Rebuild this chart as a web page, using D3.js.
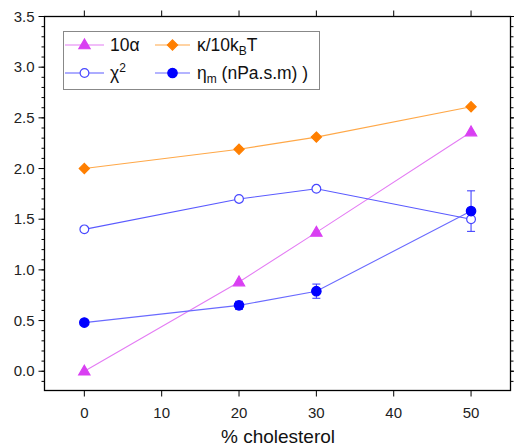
<!DOCTYPE html>
<html><head><meta charset="utf-8">
<script src="https://cdn.jsdelivr.net/npm/d3@7"></script>
<style>body{margin:0;background:#fff;} svg{display:block;} text{font-family:"Liberation Sans",Arial,sans-serif;}</style>
</head><body><svg id="c" width="514" height="447"></svg>
<script>
const xValues = [0, 20, 30, 50];
const alpha10 = [0.0, 0.88, 1.37, 2.36];
const kappa = [2.0, 2.19, 2.31, 2.61];
const chi2 = [1.40, 1.70, 1.80, 1.50];
const eta = [0.48, 0.65, 0.79, 1.58];
const etaErr = [0.01, 0.04, 0.07, 0.20];
const xTicks = [0, 10, 20, 30, 40, 50];
const yTicks = [0, 0.5, 1, 1.5, 2, 2.5, 3, 3.5];

const svg = d3.select("#c");
const L = 44.5, R = 510.5, T = 16.5, B = 390.5;
const x = d3.scaleLinear().domain([-5.15, 55.1]).range([L, R]);
const y = d3.scaleLinear().domain([-0.19, 3.5]).range([B, T]);

const diamondSym = {draw(ctx, size) { const r = Math.sqrt(size / 2); ctx.moveTo(0, -r); ctx.lineTo(r, 0); ctx.lineTo(0, r); ctx.lineTo(-r, 0); ctx.closePath(); }};

svg.append("rect").attr("x", L).attr("y", T).attr("width", R - L).attr("height", B - T)
  .attr("fill", "none").attr("stroke", "#000").attr("stroke-width", 1.3);

const minorY = d3.range(-0.1, 3.5001, 0.1).map(v => +v.toFixed(2));
const gl = svg.append("g").attr("transform", `translate(${L},0)`);
gl.selectAll("line.minor").data(minorY).join("line")
  .attr("x1", -3).attr("x2", 0).attr("y1", d => y(d)).attr("y2", d => y(d)).attr("stroke", "#000");
gl.selectAll("line.major").data(yTicks).join("line")
  .attr("x1", -6).attr("x2", 0).attr("y1", d => y(d)).attr("y2", d => y(d)).attr("stroke", "#000");
gl.selectAll("text").data(yTicks).join("text")
  .attr("x", -10).attr("y", d => y(d)).attr("dy", "0.35em").attr("text-anchor", "end")
  .attr("font-size", 15).attr("fill", "#222").text(d => d.toFixed(1));
const gr = svg.append("g").attr("transform", `translate(${R},0)`);
gr.selectAll("line.minor").data(minorY).join("line")
  .attr("x1", 0).attr("x2", 3).attr("y1", d => y(d)).attr("y2", d => y(d)).attr("stroke", "#000");
gr.selectAll("line.major").data(yTicks).join("line")
  .attr("x1", 0).attr("x2", 6).attr("y1", d => y(d)).attr("y2", d => y(d)).attr("stroke", "#000");
const gb = svg.append("g").attr("transform", `translate(0,${B})`);
gb.selectAll("line").data(xTicks).join("line")
  .attr("x1", d => x(d)).attr("x2", d => x(d)).attr("y1", 0).attr("y2", 6).attr("stroke", "#000");
gb.selectAll("text").data(xTicks).join("text")
  .attr("x", d => x(d)).attr("y", 22).attr("dy", "0.35em").attr("text-anchor", "middle")
  .attr("font-size", 15).attr("fill", "#222").text(d => d);
const gt = svg.append("g").attr("transform", `translate(0,${T})`);
gt.selectAll("line").data(xTicks).join("line")
  .attr("x1", d => x(d)).attr("x2", d => x(d)).attr("y1", 0).attr("y2", -6).attr("stroke", "#000");

svg.append("text").attr("x", 278).attr("y", 443).attr("text-anchor", "middle")
  .attr("font-size", 19).attr("fill", "#111").text("% cholesterol");

const line = d3.line().x(d => x(d[0])).y(d => y(d[1]));
const series = [
  {vals: alpha10, line: "#E47CF4", sym: d3.symbolTriangle, size: 55, dy: 0.5, fill: "#D93FF2", stroke: "#D93FF2"},
  {vals: kappa, line: "#FFA848", sym: diamondSym, size: 52, dy: 0, fill: "#FF7F00", stroke: "#FF7F00"},
  {vals: chi2, line: "#5A5AFF", sym: d3.symbolCircle, size: 60, dy: 0, fill: "#fff", stroke: "#4848FF"},
  {vals: eta, line: "#6A6AFF", sym: d3.symbolCircle, size: 70, dy: 0, fill: "#0000FF", stroke: "#0000FF"}
];
series.forEach(s => {
  svg.append("path").datum(xValues.map((v, i) => [v, s.vals[i]])).attr("d", line)
    .attr("fill", "none").attr("stroke", s.line).attr("stroke-width", 1.1);
});
const eb = svg.append("g").attr("stroke", "#3333FF").attr("stroke-width", 1);
xValues.forEach((v, i) => {
  const cx = x(v), y1 = y(eta[i] - etaErr[i]), y2 = y(eta[i] + etaErr[i]);
  eb.append("line").attr("x1", cx).attr("x2", cx).attr("y1", y1).attr("y2", y2);
  eb.append("line").attr("x1", cx - 4).attr("x2", cx + 4).attr("y1", y1).attr("y2", y1);
  eb.append("line").attr("x1", cx - 4).attr("x2", cx + 4).attr("y1", y2).attr("y2", y2);
});
series.forEach(s => {
  svg.append("g").selectAll("path").data(xValues.map((v, i) => [v, s.vals[i]])).join("path")
    .attr("transform", d => `translate(${x(d[0])},${y(d[1]) + s.dy})`)
    .attr("d", d3.symbol().type(s.sym).size(s.size))
    .attr("fill", s.fill).attr("stroke", s.stroke).attr("stroke-width", 1.2);
});

const lg = svg.append("g");
lg.append("rect").attr("x", 63.5).attr("y", 31.5).attr("width", 256).attr("height", 58)
  .attr("fill", "#fff").attr("stroke", "#888").attr("stroke-width", 1);
const legendItems = [
  {s: series[0], x0: 65, x1: 104, y: 45},
  {s: series[1], x0: 155, x1: 190, y: 45},
  {s: series[2], x0: 65, x1: 104, y: 73},
  {s: series[3], x0: 155, x1: 190, y: 73}
];
legendItems.forEach(it => {
  lg.append("line").attr("x1", it.x0).attr("x2", it.x1).attr("y1", it.y).attr("y2", it.y)
    .attr("stroke", it.s.line).attr("stroke-width", 1.1);
  lg.append("path").attr("transform", `translate(${(it.x0 + it.x1) / 2},${it.y + it.s.dy})`)
    .attr("d", d3.symbol().type(it.s.sym).size(it.s.size))
    .attr("fill", it.s.fill).attr("stroke", it.s.stroke).attr("stroke-width", 1.2);
});
const fs = 17.5, sub = 12;
const t1 = lg.append("text").attr("x", 110).attr("y", 45).attr("dy", "0.35em").attr("font-size", fs).attr("fill", "#111");
t1.text("10α");
const t2 = lg.append("text").attr("x", 197).attr("y", 45).attr("dy", "0.35em").attr("font-size", fs).attr("fill", "#111");
t2.append("tspan").text("κ/10k");
t2.append("tspan").attr("font-size", sub).attr("dy", "4").text("B");
t2.append("tspan").attr("dy", "-4").text("T");
const t3 = lg.append("text").attr("x", 110).attr("y", 73).attr("dy", "0.35em").attr("font-size", fs).attr("fill", "#111");
t3.append("tspan").text("χ");
t3.append("tspan").attr("font-size", sub).attr("dy", "-7").text("2");
const t4 = lg.append("text").attr("x", 197).attr("y", 73).attr("dy", "0.35em").attr("font-size", fs).attr("fill", "#111");
t4.append("tspan").text("η");
t4.append("tspan").attr("font-size", sub).attr("dy", "4").text("m");
t4.append("tspan").attr("dy", "-4").text(" (nPa.s.m) )");
</script></body></html>
